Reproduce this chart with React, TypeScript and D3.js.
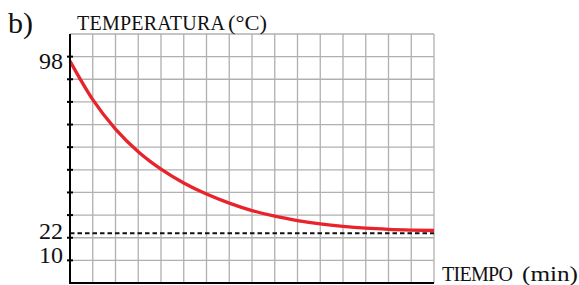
import * as d3 from 'd3';

// minutos y temperatura
const minutes = [0, 1, 2, 3, 4, 5, 6, 7, 8, 9, 10, 11, 12, 13, 14, 15, 16];
const temps = [98, 81, 68, 58, 50.3, 44.2, 39.3, 35.3, 32.0, 29.5, 27.6, 26.1, 25.0, 24.2, 23.7, 23.4, 23.2];
const ambient = 22;
const gridY = [0, 10, 20, 30, 40, 50, 60, 70, 80, 90, 100, 110];
const tickY = [10, 20, 30, 40, 50, 60, 70, 80, 90, 100];
const labelY = [98, 22, 10];
const labelDy = [7.5, 6, 3];

const font = 'Liberation Serif';

const App = () => {
    const width = 579;
    const height = 285;

    const x = d3.scaleLinear().domain([0, 16]).range([70, 434]);
    const y = d3.scaleLinear().domain([0, 110]).range([283, 34]);

    const line = d3.line<number>()
        .x((_, i) => x(minutes[i]))
        .y(d => y(d))
        .curve(d3.curveMonotoneX);

    return (
        <svg width={width} height={height} style={{ position: 'absolute', left: 0, top: 0, background: '#fff' }}>
            {/* cuadrícula */}
            <g stroke="#b0b0b0" strokeWidth={1.3}>
                {minutes.map(m => (
                    <line key={'v' + m} x1={x(m)} x2={x(m)} y1={y(110)} y2={y(0)} />
                ))}
                {gridY.map(v => (
                    <line key={'h' + v} x1={x(0)} x2={x(16)} y1={y(v)} y2={y(v)} />
                ))}
            </g>

            {/* temperatura ambiente */}
            <line x1={x(0)} x2={x(16)} y1={y(ambient)} y2={y(ambient)}
                stroke="#111" strokeWidth={2} strokeDasharray="4.5,3" />

            {/* curva */}
            <path d={line(temps) || ''} fill="none" stroke="#e8232b" strokeWidth={3.3} />

            {/* ejes */}
            <line x1={x(0)} x2={x(0)} y1={y(110)} y2={y(0) + 1} stroke="#000" strokeWidth={2} />
            <line x1={x(0) - 1} x2={x(16)} y1={y(0)} y2={y(0)} stroke="#000" strokeWidth={2} />
            {tickY.map(v => (
                <line key={'t' + v} x1={x(0) - 3} x2={x(0) + 3} y1={y(v)} y2={y(v)} stroke="#000" strokeWidth={2} />
            ))}
            {labelY.map((v, i) => (
                <text key={'l' + v} x={x(0) - 7} y={y(v) + labelDy[i]} textAnchor="end"
                    fontSize={24} fill="#111" style={{ fontFamily: font }}>{v}</text>
            ))}

            {/* títulos */}
            <text x={8} y={33} fontSize={30} fill="#111" style={{ fontFamily: font }}>b)</text>
            <g fill="#111" style={{ fontFamily: font }}>
                <text x={77} y={30} fontSize={20} textLength={148} lengthAdjust="spacing">TEMPERATURA</text>
                <text x={228} y={30} fontSize={22} textLength={39} lengthAdjust="spacingAndGlyphs">(°C)</text>
                <text x={442} y={281} fontSize={20} textLength={71} lengthAdjust="spacing">TIEMPO</text>
                <text x={522} y={281} fontSize={22} textLength={56} lengthAdjust="spacingAndGlyphs">(min)</text>
            </g>
        </svg>
    );
};

export default App;
